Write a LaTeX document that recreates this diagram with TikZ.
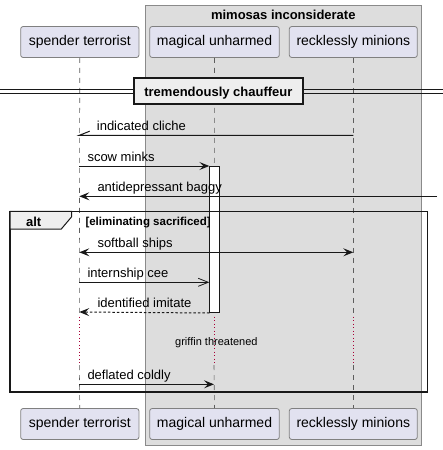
\documentclass[tikz,border=0pt]{standalone}
\usepackage{fontspec}
\setmainfont{Liberation Sans}
\usetikzlibrary{arrows.meta}
\definecolor{partfill}{HTML}{E2E2F0}
\definecolor{partdraw}{HTML}{808080}
\definecolor{boxfill}{HTML}{DDDDDD}
\definecolor{boxdraw}{HTML}{8A8A8A}
\definecolor{tabfill}{HTML}{EEEEEE}
\definecolor{ink}{HTML}{181818}
\definecolor{delayc}{HTML}{A80036}
\tikzset{
  part/.style={draw=partdraw, fill=partfill, line width=0.8pt, rounded corners=2.5pt,
    minimum height=31pt, inner sep=0pt, font=\fontsize{14}{16}\selectfont},
  lifeline/.style={draw=ink!70, line width=0.6pt, dash pattern=on 5pt off 5pt},
  delayline/.style={draw=delayc, line width=0.8pt, dash pattern=on 1pt off 2.5pt},
  msg/.style={draw=ink, line width=1pt},
  fullhead/.style={-{Stealth[length=10pt,width=8pt,inset=4pt]}},
  bothhead/.style={{Stealth[length=10pt,width=8pt,inset=4pt]}-{Stealth[length=10pt,width=8pt,inset=4pt]}},
  openhead/.style={-{Straight Barb[length=10pt,width=8pt,line width=0.8pt]}},
  lbl/.style={anchor=base west, inner sep=0pt, font=\fontsize{13}{15}\selectfont},
  boldlbl/.style={inner sep=0pt, font=\fontsize{13}{15}\selectfont\bfseries},
}
\begin{document}
\begin{tikzpicture}[x=1pt,y=-1pt]
\useasboundingbox (0,0) rectangle (443,450);

% group box
\draw[fill=boxfill, draw=boxdraw, line width=0.8pt] (145.3,5.7) rectangle (421.3,445.3);
\node[boldlbl, anchor=base] (grp) at (283.3,19.5) {mimosas inconsiderate};

% participants
\node[part, minimum width=118.3pt] (p1t) at (79.8,42) {spender terrorist};
\node[part, minimum width=129.6pt] (p2t) at (214.5,42) {magical unharmed};
\node[part, minimum width=128pt] (p3t) at (353.3,42) {recklessly minions};
\node[part, minimum width=118.3pt] (p1b) at (79.8,424) {spender terrorist};
\node[part, minimum width=129.6pt] (p2b) at (214.5,424) {magical unharmed};
\node[part, minimum width=128pt] (p3b) at (353.3,424) {recklessly minions};

% delay coordinates
\coordinate (d1a) at (79.3,316.7); \coordinate (d1b) at (79.3,365);
\coordinate (d2a) at (214,316.7);  \coordinate (d2b) at (214,365);
\coordinate (d3a) at (353.3,316.7); \coordinate (d3b) at (353.3,365);

% lifelines
\draw[lifeline] (p1t.south) -- (d1a);
\draw[delayline] (d1a) -- (d1b);
\draw[lifeline] (d1b) -- (p1b.north);
\draw[lifeline] (p2t.south) -- (d2a);
\draw[delayline] (d2a) -- (d2b);
\draw[lifeline] (d2b) -- (p2b.north);
\draw[lifeline] (p3t.south) -- (d3a);
\draw[delayline] (d3a) -- (d3b);
\draw[lifeline] (d3b) -- (p3b.north);

% divider
\draw[ink, line width=0.9pt] (0,89) -- (443,89);
\draw[ink, line width=0.9pt] (0,93.3) -- (443,93.3);
\node[draw=ink, fill=tabfill, line width=1.8pt, minimum width=168.7pt, minimum height=25.7pt,
      inner sep=0pt] (div) at (218.4,91.2) {};
\node[boldlbl, anchor=base] (divt) at (div.center |- 0,96) {tremendously chauffeur};

% message 1: indicated cliche (half arrow)
\coordinate (m1a) at (353.3,135.3);
\coordinate (m1b) at (79.3,135.3);
\coordinate (m1h) at (89.7,131.2);
\draw[msg] (m1a) -- (m1b) -- (m1h);
\node[lbl] (m1t) at (96.7,130.3) {indicated cliche};

% activation box
\node[draw=ink, fill=white, line width=1pt, minimum width=10pt, minimum height=146pt,
      inner sep=0pt, anchor=north west] (act) at (209.3,166) {};

% message 2: scow minks
\coordinate (m2a) at (79.3,166);
\draw[msg, fullhead] (m2a) -- (act.north west);
\node[lbl] (m2t) at (87.3,161) {scow minks};

% message 3: antidepressant baggy
\coordinate (m3a) at (437,196.3);
\coordinate (m3b) at (79.3,196.3);
\draw[msg, fullhead] (m3a) -- (m3b);
\node[lbl] (m3t) at (97.3,191.3) {antidepressant baggy};

% alt frame
\draw[ink, line width=1.6pt] (10,211.3) rectangle (427.3,392);
\draw[ink, fill=tabfill, line width=1pt] (10,211.3) -- (71.7,211.3) -- (71.7,216.7) -- (61.3,229) -- (10,229) -- cycle;
\node[boldlbl, anchor=base] (altt) at (33.7,226) {alt};
\node[anchor=base west, inner sep=0pt, font=\fontsize{11.5}{13}\selectfont\bfseries] (cond) at (85.3,225.5) {[eliminating sacrificed]};

% message 4: softball ships
\coordinate (m4a) at (79.3,252.3);
\coordinate (m4b) at (353.3,252.3);
\draw[msg, bothhead] (m4a) -- (m4b);
\node[lbl] (m4t) at (97.3,247.3) {softball ships};

% message 5: internship cee
\coordinate (m5a) at (79.3,282.3);
\coordinate (m5b) at (209.3,282.3);
\draw[msg, openhead] (m5a) -- (m5b);
\node[lbl] (m5t) at (87.3,277.3) {internship cee};

% message 6: identified imitate (dashed return)
\coordinate (m6b) at (79.3,312);
\draw[msg, fullhead, dash pattern=on 2.5pt off 2pt] (act.south west) -- (m6b);
\node[lbl] (m6t) at (97.3,307) {identified imitate};

% delay label
\node[anchor=base west, inner sep=0pt, font=\fontsize{11}{13}\selectfont] (dly) at (175,345.7) {griffin threatened};

% message 7: deflated coldly
\coordinate (m7a) at (79.3,384.3);
\coordinate (m7b) at (214,384.3);
\draw[msg, fullhead] (m7a) -- (m7b);
\node[lbl] (m7t) at (87.3,379.3) {deflated coldly};
\end{tikzpicture}
\end{document}
